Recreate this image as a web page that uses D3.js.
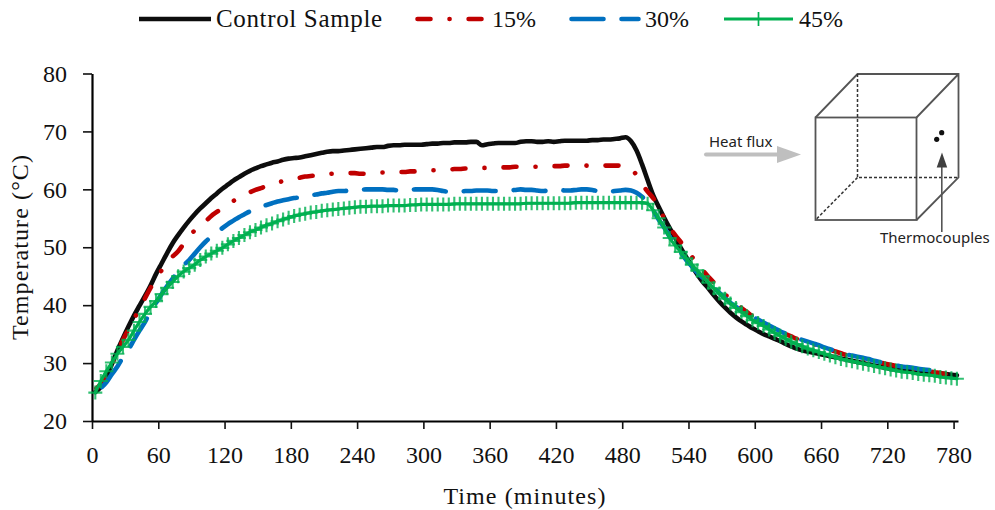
<!DOCTYPE html>
<html>
<head>
<meta charset="utf-8">
<script src="https://cdn.jsdelivr.net/npm/d3@7"></script>
<style>
  html, body { margin: 0; padding: 0; background: #fff; }
  svg { display: block; }
  text { font-family: "Liberation Serif", serif; fill: #111; }
  .note { font-family: "Noto Sans", sans-serif; fill: #222; }
</style>
</head>
<body>
<div id="chart"></div>
<script>
// readings taken every 5 minutes, first one at 3 min
const minutes = d3.range(3, 784, 5);
const xTicks = [0, 60, 120, 180, 240, 300, 360, 420, 480, 540, 600, 660, 720, 780];
const yTicks = [20, 30, 40, 50, 60, 70, 80];

const control = [
  25.0, 25.9, 27.6, 29.8, 32.2, 34.3, 36.3, 38.2, 39.9, 41.6,
  43.4, 45.4, 47.2, 49.0, 50.7, 52.1, 53.4, 54.6, 55.7, 56.7,
  57.6, 58.5, 59.3, 60.1, 60.8, 61.5, 62.1, 62.7, 63.2, 63.6,
  64.0, 64.3, 64.6, 64.8, 65.1, 65.3, 65.4, 65.5, 65.7, 65.9,
  66.1, 66.3, 66.5, 66.6, 66.6, 66.7, 66.8, 66.9, 67.0, 67.1,
  67.2, 67.3, 67.3, 67.5, 67.6, 67.6, 67.7, 67.7, 67.7, 67.7,
  67.8, 67.9, 67.9, 68.0, 68.0, 68.1, 68.1, 68.1, 68.2, 68.2,
  67.6, 67.8, 67.9, 68.0, 68.0, 68.0, 68.0, 68.2, 68.3, 68.3,
  68.2, 68.2, 68.3, 68.2, 68.3, 68.4, 68.4, 68.4, 68.4, 68.4,
  68.5, 68.5, 68.6, 68.6, 68.7, 68.8, 69.0, 68.3, 66.7, 64.3,
  61.6, 59.0, 57.0, 55.1, 53.3, 51.6, 49.9, 48.3, 46.8, 45.3,
  44.0, 42.9, 41.7, 40.6, 39.6, 38.7, 37.9, 37.2, 36.6, 36.0,
  35.5, 35.0, 34.6, 34.2, 33.8, 33.3, 32.9, 32.5, 32.2, 32.0,
  31.8, 31.6, 31.4, 31.2, 31.0, 30.8, 30.6, 30.4, 30.2, 30.0,
  29.8, 29.6, 29.4, 29.2, 29.0, 28.9, 28.8, 28.7, 28.6, 28.5,
  28.4, 28.3, 28.2, 28.2, 28.1, 28.0, 27.9
];

const pct15 = [
  25.5, 26.4, 28.0, 29.8, 31.9, 34.0, 35.8, 37.6, 39.4, 41.2,
  43.0, 44.5, 46.0, 47.3, 48.4, 49.3, 50.6, 51.9, 52.9, 53.7,
  54.5, 55.4, 56.1, 56.8, 57.4, 58.0, 58.5, 59.0, 59.5, 59.9,
  60.2, 60.6, 60.9, 61.2, 61.4, 61.6, 61.8, 62.0, 62.2, 62.3,
  62.4, 62.5, 62.6, 62.7, 62.7, 62.7, 62.8, 62.8, 62.7, 62.7,
  62.8, 62.8, 62.9, 62.9, 63.0, 63.0, 63.0, 63.1, 63.1, 63.1,
  63.2, 63.3, 63.3, 63.4, 63.4, 63.5, 63.5, 63.6, 63.6, 63.7,
  63.7, 63.7, 63.7, 63.7, 63.8, 63.8, 63.9, 63.9, 63.9, 63.9,
  63.9, 64.0, 64.0, 64.0, 64.0, 64.1, 64.1, 64.2, 64.2, 64.1,
  64.1, 64.2, 64.1, 64.1, 64.1, 64.1, 64.0, 63.4, 62.5, 60.9,
  59.6, 58.5, 57.0, 55.0, 53.4, 52.1, 50.9, 49.7, 48.4, 47.2,
  46.0, 44.9, 43.9, 42.9, 41.9, 41.0, 40.2, 39.5, 38.8, 38.1,
  37.5, 37.0, 36.4, 35.9, 35.4, 35.0, 34.6, 34.2, 33.9, 33.6,
  33.3, 33.0, 32.6, 32.3, 32.0, 31.7, 31.4, 31.2, 31.0, 30.8,
  30.6, 30.3, 30.1, 29.9, 29.7, 29.5, 29.3, 29.2, 29.0, 28.9,
  28.7, 28.6, 28.4, 28.3, 28.1
];

const pct30 = [
  25.0, 25.7, 26.7, 28.1, 29.4, 31.0, 32.3, 34.0, 35.6, 37.1,
  39.0, 40.4, 41.9, 43.3, 44.6, 45.8, 46.9, 47.8, 48.9, 50.0,
  51.0, 51.8, 52.5, 53.3, 54.0, 54.6, 55.2, 55.7, 56.2, 56.6,
  57.0, 57.3, 57.6, 57.9, 58.1, 58.3, 58.5, 58.6, 58.8, 59.0,
  59.1, 59.3, 59.4, 59.6, 59.7, 59.7, 59.8, 59.8, 59.9, 60.0,
  60.0, 60.0, 60.0, 59.9, 59.9, 59.8, 59.9, 59.9, 60.0, 60.0,
  60.0, 60.0, 59.9, 59.7, 59.6, 59.6, 59.6, 59.7, 59.7, 59.8,
  59.8, 59.8, 59.7, 59.7, 59.7, 59.8, 59.9, 60.0, 59.9, 59.9,
  59.8, 59.7, 59.8, 59.9, 59.9, 59.8, 59.8, 59.9, 60.0, 60.0,
  59.9, 59.7, 59.7, 59.6, 59.7, 59.8, 59.9, 59.8, 59.4, 58.7,
  57.8, 56.4, 54.8, 53.4, 51.8, 50.4, 49.1, 47.8, 46.7, 45.6,
  44.7, 43.9, 43.0, 42.1, 41.2, 40.4, 39.7, 39.0, 38.5, 38.0,
  37.5, 37.0, 36.5, 36.0, 35.5, 35.1, 34.7, 34.3, 34.0, 33.7,
  33.4, 33.1, 32.7, 32.4, 32.1, 31.8, 31.5, 31.3, 31.1, 30.9,
  30.7, 30.4, 30.2, 30.0, 29.8, 29.6, 29.4, 29.3, 29.2, 29.0,
  28.9, 28.8, 28.7, 28.5, 28.4
];

const pct45 = [
  24.9, 26.9, 28.6, 30.1, 31.6, 32.8, 34.0, 35.6, 37.1, 38.5,
  39.7, 40.7, 41.9, 43.0, 44.0, 45.0, 45.8, 46.4, 47.0, 47.8,
  48.4, 48.9, 49.4, 49.9, 50.5, 51.1, 51.6, 52.1, 52.6, 53.0,
  53.4, 53.8, 54.1, 54.5, 54.8, 55.1, 55.4, 55.6, 55.8, 56.0,
  56.1, 56.3, 56.4, 56.5, 56.6, 56.7, 56.8, 56.9, 57.0, 57.0,
  57.1, 57.1, 57.1, 57.2, 57.2, 57.2, 57.2, 57.3, 57.3, 57.4,
  57.4, 57.4, 57.4, 57.4, 57.4, 57.5, 57.5, 57.5, 57.5, 57.5,
  57.5, 57.5, 57.5, 57.5, 57.5, 57.5, 57.5, 57.5, 57.6, 57.6,
  57.6, 57.6, 57.6, 57.6, 57.6, 57.6, 57.6, 57.7, 57.7, 57.7,
  57.7, 57.7, 57.7, 57.7, 57.7, 57.7, 57.7, 57.7, 57.7, 57.7,
  57.5, 56.4, 55.0, 53.4, 51.6, 50.3, 49.2, 48.1, 47.0, 46.0,
  45.0, 43.9, 42.9, 42.0, 41.1, 40.3, 39.5, 38.8, 38.1, 37.4,
  36.9, 36.4, 35.8, 35.2, 34.7, 34.2, 33.7, 33.3, 32.9, 32.5,
  32.2, 31.9, 31.6, 31.3, 31.0, 30.7, 30.5, 30.3, 30.1, 29.9,
  29.7, 29.5, 29.3, 29.1, 28.9, 28.7, 28.5, 28.4, 28.3, 28.1,
  28.0, 27.9, 27.8, 27.6, 27.5, 27.4, 27.3
];

const width = 995, height = 510;
const plotLeft = 92, plotRight = 958, plotTop = 73.5, plotBottom = 421;

const svg = d3.select("#chart").append("svg")
  .attr("width", width).attr("height", height);

const x = d3.scaleLinear().domain([0, 784]).range([plotLeft, plotRight]);
const y = d3.scaleLinear().domain([20, 80]).range([plotBottom, plotTop]);

const xAxis = svg.append("g")
  .attr("transform", `translate(0,${plotBottom})`)
  .call(d3.axisBottom(x).tickValues(xTicks).tickSize(8).tickSizeOuter(0).tickPadding(17));
const yAxis = svg.append("g")
  .attr("transform", `translate(${plotLeft},0)`)
  .call(d3.axisLeft(y).tickValues(yTicks).tickSize(9).tickSizeOuter(0).tickPadding(16));

[xAxis, yAxis].forEach(function (a) {
  a.selectAll(".domain").attr("stroke", "#000").attr("stroke-width", 2.2);
  a.selectAll(".tick line").attr("stroke", "#111").attr("stroke-width", 1.6);
  a.selectAll("text").attr("font-size", 24).attr("font-family", "Liberation Serif").attr("fill", "#111");
});

svg.append("text").attr("x", 525).attr("y", 504).attr("text-anchor", "middle")
  .attr("font-size", 24).attr("letter-spacing", 1.1).text("Time (minutes)");
svg.append("text").attr("transform", "translate(28,247) rotate(-90)").attr("text-anchor", "middle")
  .attr("font-size", 24).attr("letter-spacing", 1.1).text("Temperature (°C)");

const line = d3.line()
  .x(function (d) { return x(d[0]); })
  .y(function (d) { return y(d[1]); })
  .curve(d3.curveMonotoneX);

// dashX = screen x where the middle of one dash sits, the rest of the pattern follows from there
const series = [
  { name: "Control Sample", values: control, color: "#0d0d0d", w: 4.6, dash: null, keyX: [139, 211], textX: 216 },
  { name: "15%", values: pct15, color: "#c00000", w: 4.6, dash: [13, 19, 0.1, 19], dashX: 357, keyX: [417.5, 481.5], textX: 492 },
  { name: "30%", values: pct30, color: "#0070c0", w: 4.6, dash: [32, 18], dashX: 380, keyX: [571.5, 638.5], textX: 645 },
  { name: "45%", values: pct45, color: "#00b050", w: 3.2, dash: null, keyX: [724, 793], textX: 799 }
];

function lengthAtX(node, px) {
  let lo = 0, hi = node.getTotalLength();
  while (hi - lo > 0.1) {
    const mid = (lo + hi) / 2;
    if (node.getPointAtLength(mid).x < px) lo = mid; else hi = mid;
  }
  return lo;
}

series.forEach(function (s) {
  const p = svg.append("path")
    .datum(d3.zip(minutes, s.values))
    .attr("fill", "none")
    .attr("stroke", s.color)
    .attr("stroke-width", s.w)
    .attr("stroke-linecap", "round")
    .attr("stroke-linejoin", "round")
    .attr("d", line);
  if (s.dash) {
    p.attr("stroke-dasharray", s.dash.join(" "))
      .attr("stroke-dashoffset", s.dash[0] / 2 - lengthAtX(p.node(), s.dashX));
  }
});

// plus markers on the 45% line
const plus = "M-7,0H7M0,-7V7";
svg.append("g").selectAll("path")
  .data(d3.zip(minutes, pct45))
  .enter().append("path")
  .attr("d", plus)
  .attr("transform", function (d) { return `translate(${x(d[0])},${y(d[1])})`; })
  .attr("fill", "none")
  .attr("stroke", "#00b050")
  .attr("stroke-width", 2.1)
  .attr("stroke-opacity", 0.8);

// legend
const keyY = 19;
const legend = svg.append("g");
series.forEach(function (s) {
  legend.append("line")
    .attr("x1", s.keyX[0]).attr("x2", s.keyX[1]).attr("y1", keyY).attr("y2", keyY)
    .attr("stroke", s.color)
    .attr("stroke-width", s.w)
    .attr("stroke-linecap", s.dash ? "round" : "butt")
    .attr("stroke-dasharray", s.dash ? s.dash.join(" ") : null);
  legend.append("text")
    .attr("x", s.textX).attr("y", keyY + 8)
    .attr("font-size", s.dash || s.name == "45%" ? 24 : 25)
    .attr("letter-spacing", s.dash || s.name == "45%" ? 0 : 0.65)
    .text(s.name);
});
legend.append("path")
  .attr("d", plus)
  .attr("transform", `translate(758.5,${keyY})`)
  .attr("stroke", "#00b050").attr("stroke-width", 1.7);

// inset sketch of the cube
const cube = svg.append("g").attr("fill", "none").attr("stroke", "#555").attr("stroke-width", 1.8);
cube.append("rect").attr("x", 815.5).attr("y", 117.5).attr("width", 101).attr("height", 102.5);
cube.append("path").attr("d", "M815.5,117.5L857.5,74H958.5V177.5L916.5,220M916.5,117.5L958.5,74");
cube.append("path").attr("stroke-dasharray", "3 2").attr("stroke", "#333").attr("stroke-width", 1.5)
  .attr("d", "M857.5,74V177.5H958.5M857.5,177.5L815.5,220");

svg.append("circle").attr("cx", 941.7).attr("cy", 132.7).attr("r", 2.6).attr("fill", "#111");
svg.append("circle").attr("cx", 936.7).attr("cy", 139.3).attr("r", 2.6).attr("fill", "#111");

svg.append("path").attr("d", "M941.8,232V167").attr("stroke", "#555").attr("stroke-width", 1.6);
svg.append("path").attr("d", "M936.7,167.5L947.2,167.5L942,152.5Z").attr("fill", "#404040");

svg.append("path").attr("d", "M706,154.5H778").attr("stroke", "#bfbfbf").attr("stroke-width", 4).attr("stroke-linecap", "round");
svg.append("path").attr("d", "M777,146L801,154.5L777,163Z").attr("fill", "#bfbfbf");

svg.append("text").attr("class", "note").attr("x", 709).attr("y", 147).attr("font-size", 15).text("Heat flux");
svg.append("text").attr("class", "note").attr("x", 880).attr("y", 243).attr("font-size", 15).text("Thermocouples");
</script>
</body>
</html>
